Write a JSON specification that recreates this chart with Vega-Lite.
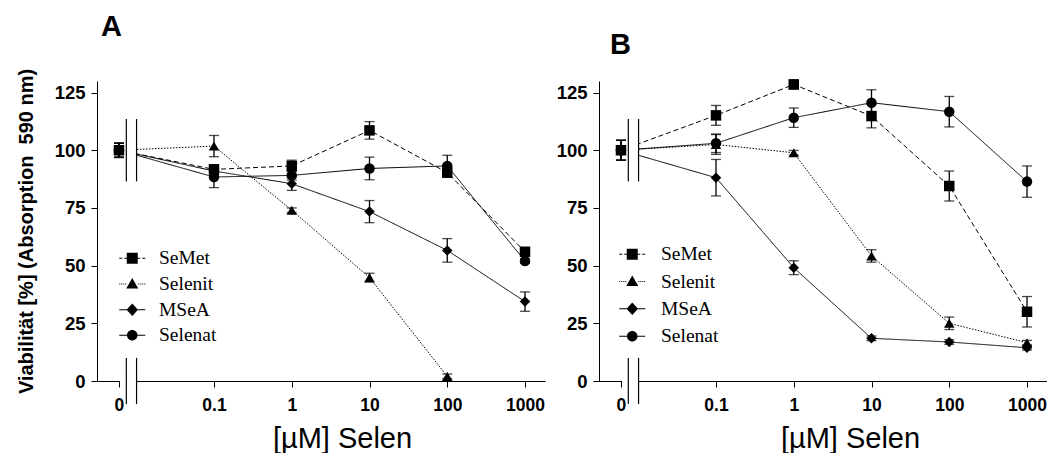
{
  "$schema": "https://vega.github.io/schema/vega-lite/v6.json",
  "background": "white",
  "padding": {"left": 16, "top": 13, "right": 0, "bottom": 0},
  "datasets": {
    "d": [
      {"p": "A", "s": "SeMet", "c": 0, "v": 100, "e": 3},
      {"p": "A", "s": "SeMet", "c": 0.1, "v": 91.7, "e": 2},
      {"p": "A", "s": "SeMet", "c": 1, "v": 93.2, "e": 2.5},
      {"p": "A", "s": "SeMet", "c": 10, "v": 108.6, "e": 3.8},
      {"p": "A", "s": "SeMet", "c": 100, "v": 90.3, "e": 2},
      {"p": "A", "s": "SeMet", "c": 1000, "v": 56.0, "e": 1.5},
      {"p": "A", "s": "Selenit", "c": 0, "v": 100, "e": 3},
      {"p": "A", "s": "Selenit", "c": 0.1, "v": 101.8, "e": 4.6},
      {"p": "A", "s": "Selenit", "c": 1, "v": 74.0, "e": 1},
      {"p": "A", "s": "Selenit", "c": 10, "v": 44.8, "e": 1.9},
      {"p": "A", "s": "Selenit", "c": 100, "v": 2.0, "e": 1},
      {"p": "A", "s": "MSeA", "c": 0, "v": 100, "e": 3},
      {"p": "A", "s": "MSeA", "c": 0.1, "v": 91.0, "e": 2},
      {"p": "A", "s": "MSeA", "c": 1, "v": 85.5, "e": 2.9},
      {"p": "A", "s": "MSeA", "c": 10, "v": 73.4, "e": 4.8},
      {"p": "A", "s": "MSeA", "c": 100, "v": 56.6, "e": 5.1},
      {"p": "A", "s": "MSeA", "c": 1000, "v": 34.4, "e": 4.2},
      {"p": "A", "s": "Selenat", "c": 0, "v": 100, "e": 3.2},
      {"p": "A", "s": "Selenat", "c": 0.1, "v": 88.4, "e": 4.6},
      {"p": "A", "s": "Selenat", "c": 1, "v": 89.1, "e": 2},
      {"p": "A", "s": "Selenat", "c": 10, "v": 92.1, "e": 4.9},
      {"p": "A", "s": "Selenat", "c": 100, "v": 93.2, "e": 4.6},
      {"p": "A", "s": "Selenat", "c": 1000, "v": 52.0, "e": 1},
      {"p": "B", "s": "SeMet", "c": 0, "v": 100, "e": 4.3},
      {"p": "B", "s": "SeMet", "c": 0.1, "v": 115.1, "e": 4.3},
      {"p": "B", "s": "SeMet", "c": 1, "v": 128.5, "e": 2},
      {"p": "B", "s": "SeMet", "c": 10, "v": 114.8, "e": 5.1},
      {"p": "B", "s": "SeMet", "c": 100, "v": 84.5, "e": 6.5},
      {"p": "B", "s": "SeMet", "c": 1000, "v": 30.0, "e": 6.6},
      {"p": "B", "s": "Selenit", "c": 0, "v": 100, "e": 4.3},
      {"p": "B", "s": "Selenit", "c": 0.1, "v": 102.5, "e": 4.3},
      {"p": "B", "s": "Selenit", "c": 1, "v": 98.9, "e": 1},
      {"p": "B", "s": "Selenit", "c": 10, "v": 54.2, "e": 2.7},
      {"p": "B", "s": "Selenit", "c": 100, "v": 25.0, "e": 2.7},
      {"p": "B", "s": "Selenit", "c": 1000, "v": 16.6, "e": 1},
      {"p": "B", "s": "MSeA", "c": 0, "v": 100, "e": 4.3},
      {"p": "B", "s": "MSeA", "c": 0.1, "v": 88.1, "e": 7.9},
      {"p": "B", "s": "MSeA", "c": 1, "v": 49.1, "e": 3.0},
      {"p": "B", "s": "MSeA", "c": 10, "v": 18.5, "e": 1},
      {"p": "B", "s": "MSeA", "c": 100, "v": 16.9, "e": 1},
      {"p": "B", "s": "MSeA", "c": 1000, "v": 14.4, "e": 1},
      {"p": "B", "s": "Selenat", "c": 0, "v": 100, "e": 4.3},
      {"p": "B", "s": "Selenat", "c": 0.1, "v": 103.0, "e": 4.0},
      {"p": "B", "s": "Selenat", "c": 1, "v": 114.1, "e": 4.2},
      {"p": "B", "s": "Selenat", "c": 10, "v": 120.6, "e": 5.6},
      {"p": "B", "s": "Selenat", "c": 100, "v": 116.7, "e": 6.6},
      {"p": "B", "s": "Selenat", "c": 1000, "v": 86.4, "e": 6.8}
    ]
  },
  "bounds": "flush",
  "spacing": 54,
  "hconcat": [
    {
      "width": 448,
      "height": 300,
      "title": {"text": "A", "anchor": "start", "frame": "group", "fontSize": 29, "fontWeight": "bold", "font": "Liberation Sans", "baseline": "alphabetic", "offset": 3, "dx": 4, "color": "black"},
      "resolve": {"scale": {"shape": "independent", "size": "independent"}, "legend": {"shape": "independent"}},
      "layer": [
        {
          "data": {"name": "d"},
          "transform": [{"filter": "datum.p === 'A'"}, {"calculate": "datum.c === 0 ? 0.006 : datum.c", "as": "xp"}],
          "mark": {"type": "line", "color": "black", "strokeWidth": 1},
          "encoding": {
            "x": {
              "field": "xp", "type": "quantitative", "title": "[µM] Selen",
              "scale": {"type": "log", "domain": [0.00313, 1807], "nice": false},
              "axis": {
                "values": [0.006, 0.1, 1, 10, 100, 1000],
                "labelExpr": "datum.value < 0.01 ? '0' : format(datum.value, '~g')",
                "labelFlush": false, "labelOverlap": false, "labelPadding": 9,
                "titleFontWeight": "normal", "titleFontSize": 29,
                "titleX": 245, "titleY": 66, "titleBaseline": "alphabetic"
              }
            },
            "y": {
              "field": "v", "type": "quantitative", "title": "Viabilität [%] (Absorption \u00a0590 nm)",
              "scale": {"domain": [0, 130], "nice": false},
              "axis": {
                "values": [0, 25, 50, 75, 100, 125], "labelPadding": 6, "labelFontSize": 18.5,
                "titleFontWeight": "bold", "titleFontSize": 20,
                "titleX": -65, "titleY": 150, "titleBaseline": "alphabetic"
              }
            },
            "detail": {"field": "s"},
            "strokeDash": {"field": "s", "scale": {"domain": ["SeMet", "Selenit", "MSeA", "Selenat"], "range": [[5, 3], [1.5, 1.5], [1, 0], [1, 0]]}, "legend": null}
          }
        },
        {
          "data": {"values": [{}]},
          "mark": {"type": "rect", "color": "white", "invalid": null},
          "encoding": {"x": {"datum": 0.0062, "type": "quantitative", "title": "[µM] Selen"}, "x2": {"datum": 0.0100}, "y": {"datum": -3, "type": "quantitative", "title": "Viabilität [%] (Absorption \u00a0590 nm)"}, "y2": {"datum": 130}}
        },
        {
          "data": {"values": [{}]},
          "mark": {"type": "rect", "color": "black", "invalid": null},
          "encoding": {"x": {"datum": 0.00733, "type": "quantitative", "title": "[µM] Selen"}, "x2": {"datum": 0.00759}, "y": {"datum": 86.5, "type": "quantitative", "title": "Viabilität [%] (Absorption \u00a0590 nm)"}, "y2": {"datum": 113.5}}
        },
        {
          "data": {"values": [{}]},
          "mark": {"type": "rect", "color": "black", "invalid": null},
          "encoding": {"x": {"datum": 0.00992, "type": "quantitative", "title": "[µM] Selen"}, "x2": {"datum": 0.01028}, "y": {"datum": 86.5, "type": "quantitative", "title": "Viabilität [%] (Absorption \u00a0590 nm)"}, "y2": {"datum": 113.5}}
        },
        {
          "data": {"values": [{}]},
          "mark": {"type": "rect", "color": "black", "invalid": null},
          "encoding": {"x": {"datum": 0.00733, "type": "quantitative", "title": "[µM] Selen"}, "x2": {"datum": 0.00759}, "y": {"datum": -10, "type": "quantitative", "title": "Viabilität [%] (Absorption \u00a0590 nm)"}, "y2": {"datum": 10}}
        },
        {
          "data": {"values": [{}]},
          "mark": {"type": "rect", "color": "black", "invalid": null},
          "encoding": {"x": {"datum": 0.00992, "type": "quantitative", "title": "[µM] Selen"}, "x2": {"datum": 0.01028}, "y": {"datum": -10, "type": "quantitative", "title": "Viabilität [%] (Absorption \u00a0590 nm)"}, "y2": {"datum": 10}}
        },
        {
          "data": {"name": "d"},
          "transform": [{"filter": "datum.p === 'A'"}, {"calculate": "datum.c === 0 ? 0.006 : datum.c", "as": "xp"}],
          "mark": {"type": "errorbar", "color": "black", "thickness": 1.3, "ticks": {"size": 10}},
          "encoding": {
            "x": {"field": "xp", "type": "quantitative", "title": "[µM] Selen", "scale": {"type": "log", "domain": [0.00313, 1807], "nice": false}},
            "y": {"field": "v", "type": "quantitative", "title": "Viabilität [%] (Absorption \u00a0590 nm)", "scale": {"domain": [0, 130], "nice": false}},
            "yError": {"field": "e"}
          }
        },
        {
          "data": {"name": "d"},
          "transform": [{"filter": "datum.p === 'A'"}, {"calculate": "datum.c === 0 ? 0.006 : datum.c", "as": "xp"}],
          "mark": {"type": "point", "filled": true, "color": "black", "opacity": 1},
          "encoding": {
            "x": {"field": "xp", "type": "quantitative", "title": "[µM] Selen", "scale": {"type": "log", "domain": [0.00313, 1807], "nice": false}},
            "y": {"field": "v", "type": "quantitative", "title": "Viabilität [%] (Absorption \u00a0590 nm)", "scale": {"domain": [0, 130], "nice": false}},
            "size": {"field": "s", "type": "nominal", "scale": {"domain": ["SeMet", "Selenit", "MSeA", "Selenat"], "range": [110, 110, 150, 115]}, "legend": null},
            "shape": {"field": "s", "type": "nominal", "scale": {"domain": ["SeMet", "Selenit", "MSeA", "Selenat"], "range": ["square", "triangle-up", "diamond", "circle"]}, "legend": null}
          }
        },
        {
          "data": {"name": "d"},
          "transform": [{"filter": "false"}],
          "mark": {"type": "point", "filled": true, "fill": "black", "opacity": 1, "size": 100},
          "encoding": {
            "x": {"field": "c", "type": "quantitative", "title": "[µM] Selen"},
            "y": {"field": "v", "type": "quantitative", "title": "Viabilität [%] (Absorption \u00a0590 nm)"},
            "shape": {
              "field": "s", "type": "nominal",
              "scale": {"domain": ["SeMet", "Selenit", "MSeA", "Selenat"], "range": [
                "M-2.6,-0.1H-2V0.1H-2.6ZM-1.6,-0.1H-1.1V0.1H-1.6ZM1.1,-0.1H1.6V0.1H1.1ZM2,-0.1H2.6V0.1H2ZM-1.1,-1.1H1.1V1.1H-1.1Z",
                "M-2.6,-0.1h0.2v0.2h-0.2ZM-2.2,-0.1h0.2v0.2h-0.2ZM-1.8,-0.1h0.2v0.2h-0.2ZM-1.4,-0.1h0.2v0.2h-0.2ZM1.2,-0.1h0.2v0.2h-0.2ZM1.6,-0.1h0.2v0.2h-0.2ZM2,-0.1h0.2v0.2h-0.2ZM2.4,-0.1h0.2v0.2h-0.2ZM0,-1.2L1.2,0.9H-1.2Z",
                "M-2.6,-0.1H2.6V0.1H-2.6ZM0,-1.25L1.15,0L0,1.25L-1.15,0Z",
                "M-2.6,-0.1H2.6V0.1H-2.6ZM1.05,0A1.05,1.05,0,1,1,-1.05,0A1.05,1.05,0,1,1,1.05,0Z"
              ]},
              "legend": {
                "orient": "none", "legendX": 25.5, "legendY": 167.5, "title": null, "padding": 0,
                "labelFont": "Liberation Serif", "labelFontSize": 19.5, "labelColor": "black",
                "symbolSize": 100, "labelOffset": 17, "rowPadding": 4.7,
                "symbolFillColor": "black", "symbolStrokeColor": "black", "symbolStrokeWidth": 1, "symbolOpacity": 1
              }
            }
          }
        }
      ]
    },
    {
      "width": 448,
      "height": 300,
      "title": {"text": "B", "anchor": "start", "frame": "group", "fontSize": 29, "fontWeight": "bold", "font": "Liberation Sans", "baseline": "alphabetic", "offset": -4, "dx": 11, "color": "black"},
      "resolve": {"scale": {"shape": "independent", "size": "independent"}, "legend": {"shape": "independent"}},
      "layer": [
        {
          "data": {"name": "d"},
          "transform": [{"filter": "datum.p === 'B'"}, {"calculate": "datum.c === 0 ? 0.006 : datum.c", "as": "xp"}],
          "mark": {"type": "line", "color": "black", "strokeWidth": 1},
          "encoding": {
            "x": {
              "field": "xp", "type": "quantitative", "title": "[µM] Selen",
              "scale": {"type": "log", "domain": [0.00313, 1807], "nice": false},
              "axis": {
                "values": [0.006, 0.1, 1, 10, 100, 1000],
                "labelExpr": "datum.value < 0.01 ? '0' : format(datum.value, '~g')",
                "labelFlush": false, "labelOverlap": false, "labelPadding": 9,
                "titleFontWeight": "normal", "titleFontSize": 29,
                "titleX": 251, "titleY": 66, "titleBaseline": "alphabetic"
              }
            },
            "y": {
              "field": "v", "type": "quantitative", "title": null,
              "scale": {"domain": [0, 130], "nice": false},
              "axis": {"values": [0, 25, 50, 75, 100, 125], "labelPadding": 6, "labelFontSize": 18.5, "title": null}
            },
            "detail": {"field": "s"},
            "strokeDash": {"field": "s", "scale": {"domain": ["SeMet", "Selenit", "MSeA", "Selenat"], "range": [[5, 3], [1.5, 1.5], [1, 0], [1, 0]]}, "legend": null}
          }
        },
        {
          "data": {"values": [{}]},
          "mark": {"type": "rect", "color": "white", "invalid": null},
          "encoding": {"x": {"datum": 0.0062, "type": "quantitative", "title": "[µM] Selen"}, "x2": {"datum": 0.0100}, "y": {"datum": -3, "type": "quantitative", "title": null}, "y2": {"datum": 130}}
        },
        {
          "data": {"values": [{}]},
          "mark": {"type": "rect", "color": "black", "invalid": null},
          "encoding": {"x": {"datum": 0.00733, "type": "quantitative", "title": "[µM] Selen"}, "x2": {"datum": 0.00759}, "y": {"datum": 86.5, "type": "quantitative", "title": null}, "y2": {"datum": 113.5}}
        },
        {
          "data": {"values": [{}]},
          "mark": {"type": "rect", "color": "black", "invalid": null},
          "encoding": {"x": {"datum": 0.00992, "type": "quantitative", "title": "[µM] Selen"}, "x2": {"datum": 0.01028}, "y": {"datum": 86.5, "type": "quantitative", "title": null}, "y2": {"datum": 113.5}}
        },
        {
          "data": {"values": [{}]},
          "mark": {"type": "rect", "color": "black", "invalid": null},
          "encoding": {"x": {"datum": 0.00733, "type": "quantitative", "title": "[µM] Selen"}, "x2": {"datum": 0.00759}, "y": {"datum": -10, "type": "quantitative", "title": null}, "y2": {"datum": 10}}
        },
        {
          "data": {"values": [{}]},
          "mark": {"type": "rect", "color": "black", "invalid": null},
          "encoding": {"x": {"datum": 0.00992, "type": "quantitative", "title": "[µM] Selen"}, "x2": {"datum": 0.01028}, "y": {"datum": -10, "type": "quantitative", "title": null}, "y2": {"datum": 10}}
        },
        {
          "data": {"name": "d"},
          "transform": [{"filter": "datum.p === 'B'"}, {"calculate": "datum.c === 0 ? 0.006 : datum.c", "as": "xp"}],
          "mark": {"type": "errorbar", "color": "black", "thickness": 1.3, "ticks": {"size": 10}},
          "encoding": {
            "x": {"field": "xp", "type": "quantitative", "title": "[µM] Selen", "scale": {"type": "log", "domain": [0.00313, 1807], "nice": false}},
            "y": {"field": "v", "type": "quantitative", "title": null, "scale": {"domain": [0, 130], "nice": false}},
            "yError": {"field": "e"}
          }
        },
        {
          "data": {"name": "d"},
          "transform": [{"filter": "datum.p === 'B'"}, {"calculate": "datum.c === 0 ? 0.006 : datum.c", "as": "xp"}],
          "mark": {"type": "point", "filled": true, "color": "black", "opacity": 1},
          "encoding": {
            "x": {"field": "xp", "type": "quantitative", "title": "[µM] Selen", "scale": {"type": "log", "domain": [0.00313, 1807], "nice": false}},
            "y": {"field": "v", "type": "quantitative", "title": null, "scale": {"domain": [0, 130], "nice": false}},
            "size": {"field": "s", "type": "nominal", "scale": {"domain": ["SeMet", "Selenit", "MSeA", "Selenat"], "range": [110, 110, 150, 115]}, "legend": null},
            "shape": {"field": "s", "type": "nominal", "scale": {"domain": ["SeMet", "Selenit", "MSeA", "Selenat"], "range": ["square", "triangle-up", "diamond", "circle"]}, "legend": null}
          }
        },
        {
          "data": {"name": "d"},
          "transform": [{"filter": "false"}],
          "mark": {"type": "point", "filled": true, "fill": "black", "opacity": 1, "size": 100},
          "encoding": {
            "x": {"field": "c", "type": "quantitative", "title": "[µM] Selen"},
            "y": {"field": "v", "type": "quantitative", "title": null},
            "shape": {
              "field": "s", "type": "nominal",
              "scale": {"domain": ["SeMet", "Selenit", "MSeA", "Selenat"], "range": [
                "M-2.6,-0.1H-2V0.1H-2.6ZM-1.6,-0.1H-1.1V0.1H-1.6ZM1.1,-0.1H1.6V0.1H1.1ZM2,-0.1H2.6V0.1H2ZM-1.1,-1.1H1.1V1.1H-1.1Z",
                "M-2.6,-0.1h0.2v0.2h-0.2ZM-2.2,-0.1h0.2v0.2h-0.2ZM-1.8,-0.1h0.2v0.2h-0.2ZM-1.4,-0.1h0.2v0.2h-0.2ZM1.2,-0.1h0.2v0.2h-0.2ZM1.6,-0.1h0.2v0.2h-0.2ZM2,-0.1h0.2v0.2h-0.2ZM2.4,-0.1h0.2v0.2h-0.2ZM0,-1.2L1.2,0.9H-1.2Z",
                "M-2.6,-0.1H2.6V0.1H-2.6ZM0,-1.25L1.15,0L0,1.25L-1.15,0Z",
                "M-2.6,-0.1H2.6V0.1H-2.6ZM1.05,0A1.05,1.05,0,1,1,-1.05,0A1.05,1.05,0,1,1,1.05,0Z"
              ]},
              "legend": {
                "orient": "none", "legendX": 23.5, "legendY": 163.5, "title": null, "padding": 0,
                "labelFont": "Liberation Serif", "labelFontSize": 19.5, "labelColor": "black",
                "symbolSize": 100, "labelOffset": 19, "rowPadding": 6.3,
                "symbolFillColor": "black", "symbolStrokeColor": "black", "symbolStrokeWidth": 1, "symbolOpacity": 1
              }
            }
          }
        }
      ]
    }
  ],
  "config": {
    "view": {"stroke": null},
    "font": "Liberation Sans",
    "axis": {
      "domainColor": "black", "tickColor": "black", "labelColor": "black", "titleColor": "black",
      "grid": false, "tickSize": 6, "domainWidth": 1, "tickWidth": 1,
      "labelFont": "Liberation Sans", "labelFontWeight": "bold", "labelFontSize": 17.5,
      "titleFont": "Liberation Sans"
    }
  }
}
